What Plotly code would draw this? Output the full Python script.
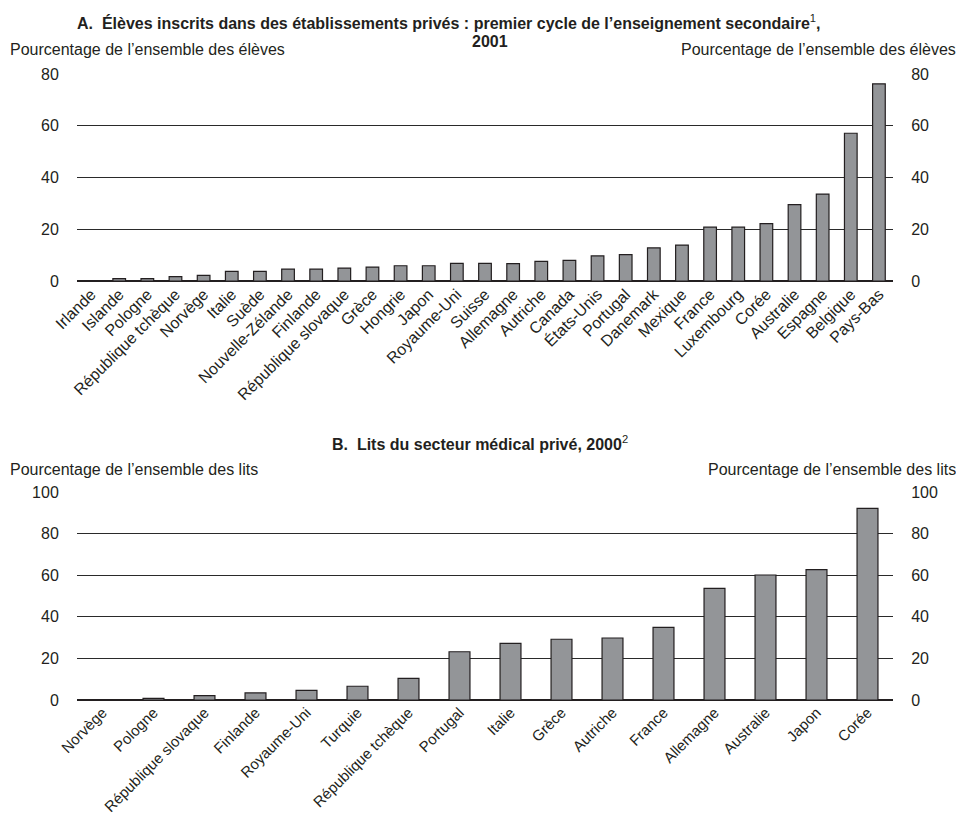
import plotly.graph_objects as go

# ---- Data: panel A (lower secondary enrolment in private institutions, 2001)
countries_a = ["Irlande", "Islande", "Pologne", "République tchèque", "Norvège", "Italie",
               "Suède", "Nouvelle-Zélande", "Finlande", "République slovaque", "Grèce",
               "Hongrie", "Japon", "Royaume-Uni", "Suisse", "Allemagne", "Autriche",
               "Canada", "États-Unis", "Portugal", "Danemark", "Mexique", "France",
               "Luxembourg", "Corée", "Australie", "Espagne", "Belgique", "Pays-Bas"]
values_a = [0.0, 0.9, 0.9, 1.7, 2.2, 3.7, 3.7, 4.6, 4.6, 5.0, 5.4, 5.9, 5.9, 6.8, 6.8,
            6.7, 7.6, 8.0, 9.7, 10.2, 12.8, 13.9, 20.8, 20.8, 22.2, 29.5, 33.6, 57.1, 76.2]

# ---- Data: panel B (private medical-sector beds, 2000)
countries_b = ["Norvège", "Pologne", "République slovaque", "Finlande", "Royaume-Uni",
               "Turquie", "République tchèque", "Portugal", "Italie", "Grèce", "Autriche",
               "France", "Allemagne", "Australie", "Japon", "Corée"]
values_b = [0.0, 0.8, 2.1, 3.4, 4.6, 6.6, 10.4, 23.2, 27.2, 29.2, 29.8, 34.9, 53.7,
            60.1, 62.7, 92.1]

ticks_a = [0, 20, 40, 60, 80]
ticks_b = [0, 20, 40, 60, 80, 100]

title_a = "<b>A.  Élèves inscrits dans des établissements privés : premier cycle de l’enseignement secondaire</b><sup>1</sup><b>,</b>"
title_a2 = "<b>2001</b>"
title_b = "<b>B.  Lits du secteur médical privé, 2000</b><sup>2</sup>"
ylab_a = "Pourcentage de l’ensemble des élèves"
ylab_b = "Pourcentage de l’ensemble des lits"

FONT = "Liberation Sans, Arial, sans-serif"
BAR = "#939598"
EDGE = "#231f20"
GRID = "#2a2a2a"
TXT = "#231f20"

# the page body has an 8px margin: figure origin sits at (8, 8) of the window
OFF = 8
W, H = 964 - OFF, 815 - OFF
L = 77 - OFF
R = W - (893 - OFF)
fig = go.Figure()

fig.add_trace(go.Bar(x=countries_a, y=values_a, xaxis="x", yaxis="y", width=0.45,
                     marker=dict(color=BAR, line=dict(color=EDGE, width=1.2)),
                     showlegend=False))
fig.add_trace(go.Scatter(x=countries_a, y=values_a, xaxis="x", yaxis="y3",
                         mode="markers", marker=dict(opacity=0, size=1), hoverinfo="skip",
                         showlegend=False))
fig.add_trace(go.Bar(x=countries_b, y=values_b, xaxis="x2", yaxis="y2", width=0.41,
                     marker=dict(color=BAR, line=dict(color=EDGE, width=1.2)),
                     showlegend=False))
fig.add_trace(go.Scatter(x=countries_b, y=values_b, xaxis="x2", yaxis="y4",
                         mode="markers", marker=dict(opacity=0, size=1), hoverinfo="skip",
                         showlegend=False))

def frac(py):
    """reference-window pixel y -> paper fraction"""
    return (H - (py - OFF)) / H

def px(xp):
    """reference-window pixel x -> paper fraction"""
    return ((xp - OFF) - L) / (W - L - R)

tickfont = dict(family=FONT, size=16, color=TXT)
ybase = dict(zeroline=True, zerolinecolor=EDGE, zerolinewidth=1.5, ticks="outside",
             ticklen=14, tickcolor="rgba(0,0,0,0)", tickfont=tickfont, showline=False,
             fixedrange=True, automargin=False)
xbase = dict(domain=[0, 1], tickangle=-45, showgrid=False, ticks="", showline=False,
             automargin=False, fixedrange=True)

fig.update_layout(
    width=W, height=H,
    margin=dict(l=L, r=R, t=0, b=0, autoexpand=False),
    paper_bgcolor="white", plot_bgcolor="white",
    font=dict(family=FONT, color=TXT),
    xaxis=dict(anchor="y", range=[-0.5, len(countries_a) - 0.5],
               tickfont=dict(family=FONT, size=16, color=TXT), **xbase),
    yaxis=dict(domain=[frac(281), frac(74)], range=[0, 80], tickvals=ticks_a,
               showgrid=True, gridcolor=GRID, gridwidth=1, **ybase),
    yaxis3=dict(overlaying="y", side="right", range=[0, 80], tickvals=ticks_a,
                anchor="x", showgrid=False, **ybase),
    xaxis2=dict(anchor="y2", range=[-0.5, len(countries_b) - 0.5],
                tickfont=dict(family=FONT, size=15, color=TXT), **xbase),
    yaxis2=dict(domain=[frac(700), frac(492)], range=[0, 100], tickvals=ticks_b,
                showgrid=True, gridcolor=GRID, gridwidth=1, **ybase),
    yaxis4=dict(overlaying="y2", side="right", range=[0, 100], tickvals=ticks_b,
                anchor="x2", showgrid=False, **ybase),
)

ann = []
def add(text, x, y, xanchor, size):
    ann.append(dict(text=text, x=px(x), y=frac(y), xref="paper", yref="paper",
                    xanchor=xanchor, yanchor="middle", showarrow=False,
                    font=dict(family=FONT, size=size, color=TXT)))

add(title_a, 448, 22, "center", 16)
add(title_a2, 490, 42, "center", 16)
add(ylab_a, 8, 49, "left", 16)
add(ylab_a, 958, 49, "right", 16)
add(title_b, 480, 443, "center", 16)
add(ylab_b, 8, 469, "left", 16)
add(ylab_b, 958, 469, "right", 16)
fig.update_layout(annotations=ann)

fig.write_html("out.html")
